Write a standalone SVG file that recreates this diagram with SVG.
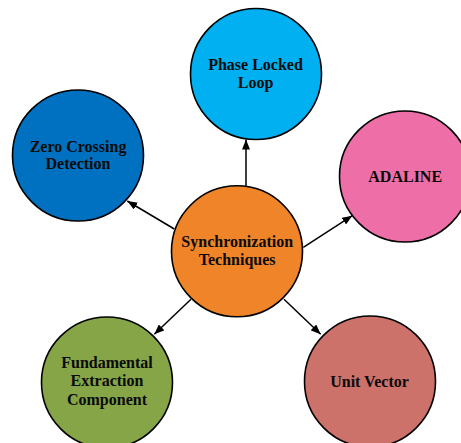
<svg xmlns="http://www.w3.org/2000/svg" width="461" height="443" viewBox="0 0 461 443">
<style>
.node circle{stroke:#000;stroke-width:1.6}
.node text{font-family:"Liberation Serif","Times New Roman",serif;font-weight:bold;font-size:16px;fill:#0a0a0a;text-anchor:middle}
.conn line{stroke:#000;stroke-width:1.5;marker-end:url(#arr)}
</style>
<defs>
<marker id="arr" markerUnits="userSpaceOnUse" markerWidth="11" markerHeight="8" refX="10" refY="4" orient="auto">
<path d="M0,0 L10,4 L0,8 z" fill="#000"/>
</marker>
</defs>
<rect width="461" height="443" fill="#fff"/>
<g id="connectors" class="conn">
<line x1="246" y1="186" x2="246" y2="139.5"/>
<line x1="174.3" y1="229" x2="127.3" y2="201"/>
<line x1="303.3" y1="247.3" x2="352.3" y2="215.7"/>
<line x1="191" y1="299.3" x2="154.3" y2="334.3"/>
<line x1="284" y1="299.3" x2="320.7" y2="334.3"/>
</g>
<g id="pll" class="node">
<circle cx="256" cy="74" r="65.5" fill="#00B0F0"/>
<text x="255.5" y="70">Phase Locked</text>
<text x="255.5" y="87.7">Loop</text>
</g>
<g id="zcd" class="node">
<circle cx="78" cy="155.5" r="65.5" fill="#0070C0"/>
<text x="78" y="151.7">Zero Crossing</text>
<text x="78" y="169.3">Detection</text>
</g>
<g id="adaline" class="node">
<circle cx="405" cy="176.5" r="65.5" fill="#EE6EA8"/>
<text x="405.2" y="181.7">ADALINE</text>
</g>
<g id="sync" class="node">
<circle cx="237" cy="251.3" r="65.5" fill="#F08428"/>
<text x="237.2" y="247.3">Synchronization</text>
<text x="237.2" y="265">Techniques</text>
</g>
<g id="fec" class="node">
<circle cx="107" cy="382.5" r="65.5" fill="#86A546"/>
<text x="107" y="367.7">Fundamental</text>
<text x="107" y="386">Extraction</text>
<text x="107" y="404.8">Component</text>
</g>
<g id="uv" class="node">
<circle cx="370" cy="381.5" r="65.5" fill="#CD716B"/>
<text x="369.5" y="387">Unit Vector</text>
</g>
</svg>
